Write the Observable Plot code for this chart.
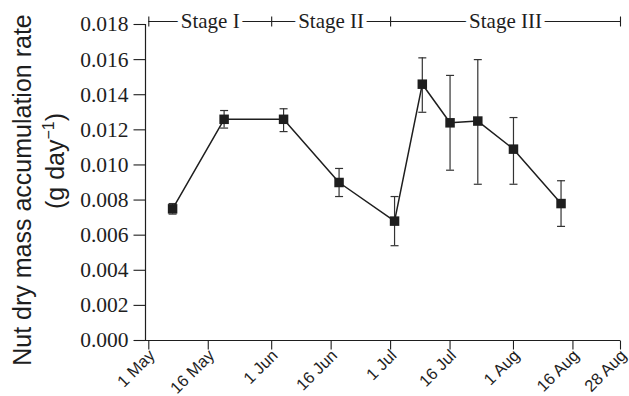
<!DOCTYPE html>
<html><head><meta charset="utf-8">
<script src="https://cdn.jsdelivr.net/npm/d3@7"></script>
<script src="https://cdn.jsdelivr.net/npm/@observablehq/plot@0.6"></script>
<style>
body{margin:0;background:#fff}
svg{display:block}
</style>
</head><body><div id="chart"></div>
<script>
// ---- data ----
const dates  = ["2010-05-07","2010-05-20","2010-06-04","2010-06-18","2010-07-02","2010-07-09","2010-07-16","2010-07-23","2010-08-01","2010-08-13"];
const rate   = [0.0075, 0.0126, 0.0126, 0.0090, 0.0068, 0.0146, 0.0124, 0.0125, 0.0109, 0.0078];
const rateHi = [0.0078, 0.0131, 0.0132, 0.0098, 0.0082, 0.0161, 0.0151, 0.0160, 0.0127, 0.0091];
const rateLo = [0.0072, 0.0121, 0.0119, 0.0082, 0.0054, 0.0130, 0.0097, 0.0089, 0.0089, 0.0065];
const tickDates  = ["2010-05-01","2010-05-16","2010-06-01","2010-06-16","2010-07-01","2010-07-16","2010-08-01","2010-08-16","2010-08-28"];
const tickLabels = ["1 May","16 May","1 Jun","16 Jun","1 Jul","16 Jul","1 Aug","16 Aug","28 Aug"];
const yTicks = [0,0.002,0.004,0.006,0.008,0.010,0.012,0.014,0.016,0.018];
const stageNames = ["Stage I","Stage II","Stage III"];
const stageStart = ["2010-05-01","2010-06-01","2010-07-01"];
const stageEnd   = ["2010-06-01","2010-07-01","2010-08-28"];

const parse = d3.utcParse("%Y-%m-%d");
const data = dates.map((d,i)=>({date:parse(d), rate:rate[i], hi:rateHi[i], lo:rateLo[i]}));
const ticks = tickDates.map(parse);
const labelOf = new Map(ticks.map((t,i)=>[+t, tickLabels[i]]));
const stages = stageNames.map((n,i)=>{
  const s = parse(stageStart[i]), e = parse(stageEnd[i]);
  return {name:n, start:s, end:e, mid:new Date((+s + +e)/2)};
});
const bounds = Array.from(new Set([...stageStart, ...stageEnd])).map(parse);
const yMax = yTicks[yTicks.length-1];
const yFmt = d3.format(".3f");

const hCap = {draw(ctx, size){const w = Math.sqrt(size)/2; ctx.moveTo(-w,0); ctx.lineTo(w,0);}};
const vCap = {draw(ctx, size){const w = Math.sqrt(size)/2; ctx.moveTo(0,-w); ctx.lineTo(0,w);}};
const leftTick = {draw(ctx, size){const w = Math.sqrt(size); ctx.moveTo(-w,0); ctx.lineTo(0,0);}};
const downTick = {draw(ctx, size){const w = Math.sqrt(size); ctx.moveTo(0,0); ctx.lineTo(0,w);}};
const rFor = len => len / Math.sqrt(Math.PI);

const ink = "#1e1e1e";
const serif = "Liberation Serif, Times New Roman, serif";
const sans = "Liberation Sans, Arial, sans-serif";

const chart = Plot.plot({
  width: 629, height: 396,
  marginLeft: 145, marginTop: 24, marginBottom: 56, marginRight: 9,
  style: {background:"#fff", color: ink, overflow:"visible"},
  x: {type:"utc", domain:[ticks[0], ticks[ticks.length-1]], range:[148.3, 620], axis: null},
  y: {domain:[0, yMax], axis: null},
  marks: [
    Plot.frame({anchor:"left", stroke: ink, strokeWidth:1.2}),
    Plot.ruleY([0], {stroke: ink, strokeWidth:1.2}),
    // y axis ticks + labels
    Plot.dot(yTicks, {y: d=>d, frameAnchor:"left", symbol: leftTick, r: rFor(12), stroke: ink, strokeWidth:1.1, fill:"none"}),
    Plot.text(yTicks, {y: d=>d, frameAnchor:"left", text: d=>yFmt(d), textAnchor:"end", dx:-17,
      fontFamily: serif, fontSize: 21.5, fill: ink}),
    // x axis ticks + labels
    Plot.dot(ticks, {x: d=>d, frameAnchor:"bottom", symbol: downTick, r: rFor(9), stroke: ink, strokeWidth:1.1, fill:"none"}),
    Plot.text(ticks, {x: d=>d, frameAnchor:"bottom", text: d=>labelOf.get(+d), rotate:-45, textAnchor:"end",
      dx: 7, dy: 16, fontFamily: sans, fontSize: 16.5, fill: ink}),
    // stage bar
    Plot.ruleY(stages, {y: ()=>yMax, x1:"start", x2:"end", dy:-3, stroke: ink, strokeWidth:1.1}),
    Plot.dot(bounds, {x: d=>d, y: ()=>yMax, dy:-3, symbol: vCap, r: rFor(10), stroke: ink, strokeWidth:1.1, fill:"none"}),
    Plot.text(stages, {x:"mid", y: ()=>yMax, dy:-3, text:"name", fontSize: 21, fontFamily: serif,
      fill: ink, stroke:"#fff", strokeWidth: 10, paintOrder:"stroke"}),
    // error bars
    Plot.ruleX(data, {x:"date", y1:"lo", y2:"hi", stroke:"#333", strokeWidth:1.2}),
    Plot.dot(data, {x:"date", y:"hi", symbol: hCap, r: rFor(8), stroke:"#333", strokeWidth:1.2, fill:"none"}),
    Plot.dot(data, {x:"date", y:"lo", symbol: hCap, r: rFor(8), stroke:"#333", strokeWidth:1.2, fill:"none"}),
    // series
    Plot.line(data, {x:"date", y:"rate", stroke: ink, strokeWidth:1.5}),
    Plot.dot(data, {x:"date", y:"rate", symbol:"square", r: rFor(9.5), fill: ink, stroke:"none"})
  ]
});

const svg = d3.select(chart);
// y-axis title (two lines, with superscript)
const g = svg.append("g").attr("font-family", sans).attr("font-size", 25).attr("fill", ink).attr("text-anchor","middle");
g.append("text").attr("transform","translate(31,190) rotate(-90)").text("Nut dry mass accumulation rate");
const t2 = g.append("text").attr("transform","translate(64,161) rotate(-90)");
t2.append("tspan").text("(g day");
t2.append("tspan").attr("dy", -10).attr("font-size", 16).text("\u22121");
t2.append("tspan").attr("dy", 10).text(")");

document.getElementById("chart").appendChild(chart);
</script>
</body></html>
